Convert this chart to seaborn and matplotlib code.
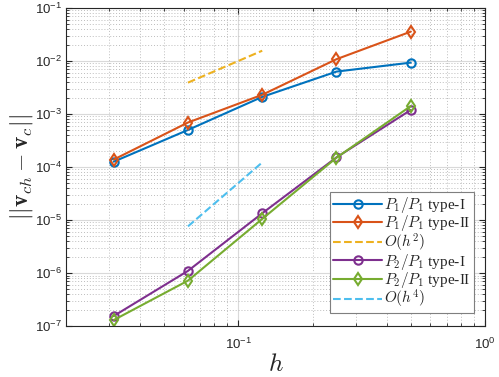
import numpy as np
import pandas as pd
import matplotlib
matplotlib.use('Agg')
import matplotlib.pyplot as plt
import seaborn as sns
from matplotlib.ticker import LogLocator, NullFormatter

# Datos
h = [1/32, 1/16, 1/8, 1/4, 1/2]
p1p1_tipo1 = [1.26e-4, 5.0e-4, 2.1e-3, 6.3e-3, 9.3e-3]
p1p1_tipo2 = [1.38e-4, 6.9e-4, 2.3e-3, 1.08e-2, 3.57e-2]
p2p1_tipo1 = [1.55e-7, 1.1e-6, 1.34e-5, 1.52e-4, 1.19e-3]
p2p1_tipo2 = [1.3e-7, 7.2e-7, 1.05e-5, 1.5e-4, 1.41e-3]

# Rectas de referencia
h_ref = [1/16, 1/8]
orden2 = [3.9e-3, 1.56e-2]
orden4 = [7.6e-6, 1.22e-4]

sns.set_style('ticks')
plt.rcParams['font.family'] = ['Liberation Sans', 'DejaVu Sans']
plt.rcParams['mathtext.fontset'] = 'cm'

fig = plt.figure(figsize=(4.99, 3.77), dpi=100)
ax = fig.add_axes([0.132, 0.135, 0.84, 0.844])

series = [
    (p1p1_tipo1, r'$P_1/P_1$ type-I', '#0072BD', 'o', '-', h),
    (p1p1_tipo2, r'$P_1/P_1$ type-II', '#D95319', 'd', '-', h),
    (orden2, r'$O(h^2)$', '#EDB120', None, '--', h_ref),
    (p2p1_tipo1, r'$P_2/P_1$ type-I', '#7E2F8E', 'o', '-', h),
    (p2p1_tipo2, r'$P_2/P_1$ type-II', '#77AC30', 'd', '-', h),
    (orden4, r'$O(h^4)$', '#4DBEEE', None, '--', h_ref),
]

for vals, nombre, color, marca, estilo, xs in series:
    kw = {}
    if marca is not None:
        kw = dict(marker=marca, markersize=6.5 if marca == 'd' else 6,
                  markerfacecolor='none',
                  markeredgecolor=color, markeredgewidth=1.5)
    sns.lineplot(x=xs, y=vals, ax=ax, color=color, linestyle=estilo,
                 linewidth=1.5, label=nombre, **kw)

ax.set_xscale('log')
ax.set_yscale('log')
ax.set_xlim(0.02, 1)
ax.set_ylim(1e-7, 1e-1)

ax.yaxis.set_major_locator(LogLocator(base=10, numticks=10))
ax.yaxis.set_minor_locator(LogLocator(base=10, subs=np.arange(2, 10), numticks=20))
ax.xaxis.set_minor_locator(LogLocator(base=10, subs=np.arange(2, 10), numticks=20))
ax.xaxis.set_minor_formatter(NullFormatter())
ax.yaxis.set_minor_formatter(NullFormatter())

ax.grid(True, which='major', color='#d9d9d9', linewidth=0.8, linestyle='-')
ax.grid(True, which='minor', color='#bdbdbd', linewidth=0.7, linestyle=(0, (1, 2)))
ax.set_axisbelow(True)

for s in ax.spines.values():
    s.set_visible(True)
    s.set_color('#262626')
    s.set_linewidth(0.8)

ax.tick_params(which='both', direction='in', top=True, right=True,
               colors='#262626', labelsize=9.5)
ax.tick_params(which='major', length=4)
ax.tick_params(which='minor', length=2)
ax.tick_params(axis='x', pad=8)
ax.tick_params(axis='y', pad=3)

ax.set_xlabel(r'$h$', fontsize=18, labelpad=0)
ax.set_ylabel(r'$||\mathbf{v}_{ch}-\mathbf{v}_c||$', fontsize=17, labelpad=0)

leg = ax.legend(loc='lower right', bbox_to_anchor=(0.973, 0.04),
                prop={'family': 'Liberation Serif', 'size': 11},
                handlelength=3.2, fancybox=False, framealpha=1,
                edgecolor='#7f7f7f', borderpad=0.2, labelspacing=-0.12,
                handletextpad=0.15, borderaxespad=0)
leg.get_frame().set_linewidth(0.8)

plt.savefig('out.png', dpi=100)
